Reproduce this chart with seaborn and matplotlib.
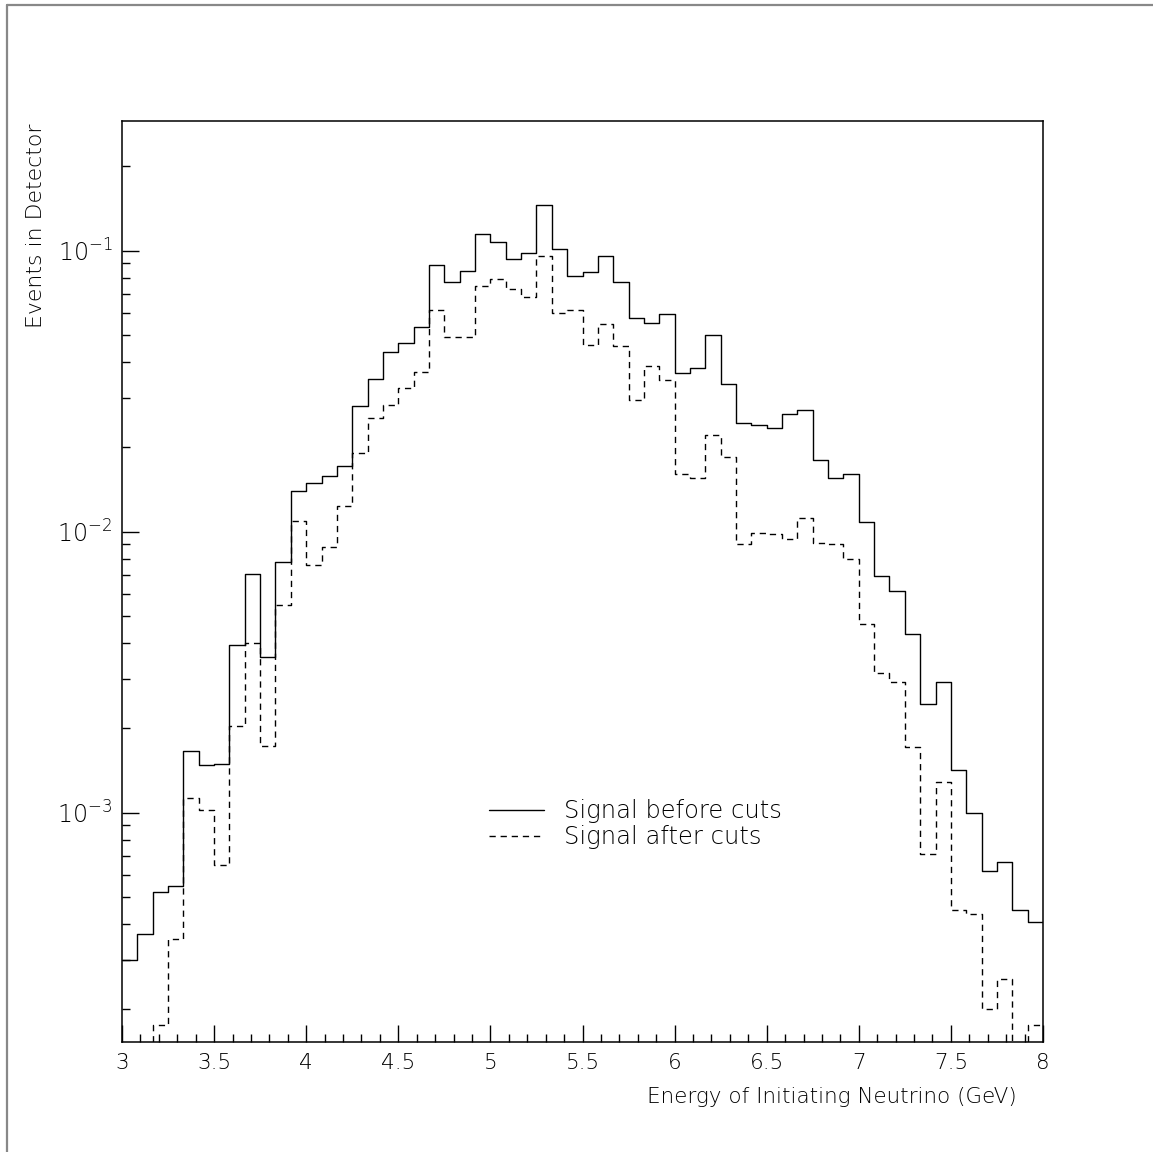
import numpy as np
import pandas as pd
import matplotlib
matplotlib.use("Agg")
import matplotlib.pyplot as plt
import matplotlib.ticker as mticker
from matplotlib.lines import Line2D
import seaborn as sns

# ---------------- data ----------------
e_min, e_max, n_bins = 3.0, 8.0, 60
signal_before = [3.0e-4, 3.7e-4, 5.2e-4, 5.5e-4, 1.65e-3, 1.48e-3, 1.49e-3, 3.95e-3, 7.05e-3, 3.57e-3,
                 7.8e-3, 0.0140, 0.01486, 0.0158, 0.01714, 0.0281, 0.0348, 0.0436, 0.0471, 0.0533,
                 0.0887, 0.0771, 0.0847, 0.1146, 0.1071, 0.0937, 0.0979, 0.1455, 0.1011, 0.0815,
                 0.0837, 0.0955, 0.0774, 0.0576, 0.0554, 0.0596, 0.0366, 0.0383, 0.0499, 0.0336,
                 0.0244, 0.0240, 0.0233, 0.0262, 0.0271, 0.0180, 0.01556, 0.0160, 0.01084, 0.00697,
                 0.00617, 0.00431, 0.00243, 0.00292, 0.00142, 0.000998, 0.00062, 0.000666, 0.000451, 0.000409]
signal_after = [0.0, 0.0, 1.75e-4, 3.55e-4, 1.13e-3, 1.02e-3, 6.5e-4, 2.03e-3, 4.0e-3, 1.73e-3,
                5.46e-3, 0.0109, 0.0076, 0.0088, 0.0123, 0.0191, 0.0254, 0.0283, 0.0325, 0.0369,
                0.0616, 0.0494, 0.0494, 0.0747, 0.0793, 0.0731, 0.0686, 0.0958, 0.0600, 0.0616,
                0.0462, 0.0548, 0.0459, 0.0294, 0.0389, 0.0345, 0.0161, 0.0155, 0.0221, 0.0185,
                0.00906, 0.00987, 0.0098, 0.0094, 0.0112, 0.00912, 0.0090, 0.00798, 0.0047, 0.00313,
                0.00292, 0.00171, 0.00071, 0.00128, 0.00045, 0.000435, 0.00020, 0.000255, 0.0, 0.000175]
series_labels = ["Signal before cuts", "Signal after cuts"]
xtick_values = [3, 3.5, 4, 4.5, 5, 5.5, 6, 6.5, 7, 7.5, 8]
xtick_labels = ["3", "3.5", "4", "4.5", "5", "5.5", "6", "6.5", "7", "7.5", "8"]
ytick_values = [1e-3, 1e-2, 1e-1]
ytick_labels = [r"$10^{-3}$", r"$10^{-2}$", r"$10^{-1}$"]
y_limits = (1.53e-4, 0.29)
x_title = "Energy of Initiating Neutrino (GeV)"
y_title = "Events in Detector"

edges = np.linspace(e_min, e_max, n_bins + 1)
centers = 0.5 * (edges[:-1] + edges[1:])
df = pd.DataFrame({"energy": centers, "before": signal_before, "after": signal_after})

# ---------------- figure ----------------
sns.set_style("ticks")
plt.rcParams["font.family"] = ["DejaVu Sans"]
plt.rcParams["font.weight"] = "light"
plt.rcParams["axes.labelweight"] = "light"
plt.rcParams["mathtext.fontset"] = "dejavusans"

TXT = "black"
W, H = 1153, 1152
fig = plt.figure(figsize=(W / 100, H / 100), dpi=100)
ax = fig.add_axes([122 / W, 1 - 1041.7 / H, 921 / W, 921 / H])

dash = (0, (4.5, 3.5))
sns.histplot(data=df, x="energy", weights="before", bins=edges.tolist(), element="step",
             fill=False, color="black", linewidth=1.0, ax=ax)
sns.histplot(data=df, x="energy", weights="after", bins=edges.tolist(), element="step",
             fill=False, color="black", linewidth=1.0, linestyle=dash, ax=ax)

ax.set_yscale("log")
ax.set_xlim(e_min, e_max)
ax.set_ylim(*y_limits)

for s in ["left", "bottom", "top", "right"]:
    ax.spines[s].set_visible(True)
    ax.spines[s].set_linewidth(1.1)
    ax.spines[s].set_color("black")

ax.xaxis.set_major_locator(mticker.FixedLocator(xtick_values))
ax.xaxis.set_major_formatter(mticker.FixedFormatter(xtick_labels))
ax.xaxis.set_minor_locator(mticker.MultipleLocator(0.1))
ax.yaxis.set_major_locator(mticker.FixedLocator(ytick_values))
ax.yaxis.set_major_formatter(mticker.FixedFormatter(ytick_labels))
ax.yaxis.set_minor_locator(mticker.LogLocator(base=10, subs=np.arange(2, 10)))
ax.yaxis.set_minor_formatter(mticker.NullFormatter())

ax.tick_params(axis="both", which="both", direction="in", top=False, right=False,
               color="black", width=1.0, labelcolor=TXT)
ax.tick_params(axis="both", which="major", length=12.5)
ax.tick_params(axis="both", which="minor", length=6)
ax.tick_params(axis="x", which="major", pad=8, labelsize=15.5)
ax.tick_params(axis="y", which="major", pad=7, labelsize=17)

ax.set_xlabel(x_title, fontsize=15.5, fontweight="light", color=TXT, ha="right", va="top")
ax.xaxis.set_label_coords(0.972, -0.049)
ax.set_ylabel(y_title, fontsize=15.8, fontweight="light", color=TXT, ha="right", va="bottom")
ax.yaxis.set_label_coords(-0.083, 0.997)

handles = [Line2D([], [], color="black", lw=1.0),
           Line2D([], [], color="black", lw=1.0, linestyle=dash)]
leg = ax.legend(handles, series_labels, loc="center left", bbox_to_anchor=(0.399, 0.236),
                frameon=False, fontsize=17.5, handlelength=2.25, handletextpad=0.8,
                labelspacing=0.08, borderpad=0, borderaxespad=0, labelcolor=TXT)

# outer page frame (top and left edges visible)
fig.add_artist(Line2D([7 / W, 1], [1 - 5 / H, 1 - 5 / H], color="#888888", lw=1.6,
                      transform=fig.transFigure))
fig.add_artist(Line2D([7 / W, 7 / W], [0, 1 - 5 / H], color="#888888", lw=1.6,
                      transform=fig.transFigure))

fig.savefig("out.png", dpi=100, facecolor="white")
